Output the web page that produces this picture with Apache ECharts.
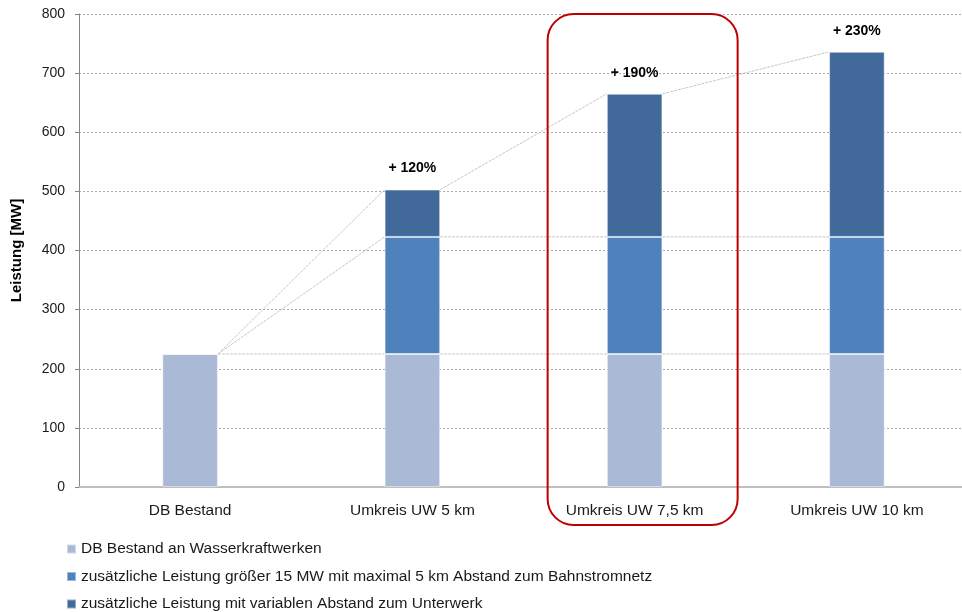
<!DOCTYPE html>
<html>
<head>
<meta charset="utf-8">
<script src="https://cdn.jsdelivr.net/npm/echarts@6/dist/echarts.min.js"></script>
<style>
  html, body { margin: 0; padding: 0; background: #fff; }
  #chart { width: 962px; height: 612px; }
</style>
</head>
<body>
<div id="chart"></div>
<script>
// Installed hydro capacity (MW) per search radius around substations
const categories = ['DB Bestand', 'Umkreis UW 5 km', 'Umkreis UW 7,5 km', 'Umkreis UW 10 km'];
const seriesNames = [
  'DB Bestand an Wasserkraftwerken',
  'zusätzliche Leistung größer 15 MW mit maximal 5 km Abstand zum Bahnstromnetz',
  'zusätzliche Leistung mit variablen Abstand zum Unterwerk'
];
const bestand = [225, 225, 225, 225];
const gross15 = [0, 198, 198, 198];
const variabel = [0, 80, 242, 313];
const increaseLabels = ['', '+ 120%', '+ 190%', '+ 230%'];
const yTicks = { min: 0, max: 800, interval: 100 };

const colors = ['#AAB9D6', '#4F81BD', '#416A9B'];
const FONT = '"Liberation Sans", Arial, sans-serif';
const BAR_RATIO = 0.25;

// cumulative tops of each stacked segment, used for the connecting series lines
const stacks = [bestand, gross15, variabel];
const cumulative = stacks.map((_, s) =>
  categories.map((_, i) => stacks.slice(0, s + 1).reduce((sum, arr) => sum + arr[i], 0))
);

const chart = echarts.init(document.getElementById('chart'));

const barStyle = (c) => ({ color: c, borderColor: 'rgba(255,255,255,0.45)', borderWidth: 1 });

const option = {
  animation: false,
  backgroundColor: '#ffffff',
  textStyle: { fontFamily: FONT },
  grid: { left: 79, right: -6, top: 14, bottom: 125, outerBoundsMode: 'none' },
  legend: {
    orient: 'vertical',
    left: 66,
    top: 541,
    padding: 0,
    itemWidth: 9,
    itemHeight: 9,
    itemGap: 11.5,
    icon: 'rect',
    data: seriesNames,
    selectedMode: false,
    textStyle: { fontFamily: FONT, fontSize: 15.5, color: '#1a1a1a', lineHeight: 16 }
  },
  xAxis: {
    type: 'category',
    data: categories,
    axisLine: { lineStyle: { color: '#BFBFBF', width: 2 } },
    axisTick: { show: false },
    axisLabel: { fontFamily: FONT, fontSize: 15.5, color: '#1a1a1a', margin: 16 }
  },
  yAxis: {
    type: 'value',
    min: yTicks.min,
    max: yTicks.max,
    interval: yTicks.interval,
    name: 'Leistung [MW]',
    nameLocation: 'middle',
    nameGap: 55,
    nameTextStyle: { fontFamily: FONT, fontSize: 15, fontWeight: 'bold', color: '#000' },
    axisLine: { show: true, lineStyle: { color: '#868686', width: 1 } },
    axisTick: { show: true, length: 4, lineStyle: { color: '#868686' } },
    axisLabel: { fontFamily: FONT, fontSize: 14, color: '#1a1a1a', margin: 14 },
    splitLine: { lineStyle: { color: '#ababab', type: [2, 2], width: 1 } }
  },
  series: [
    {
      name: seriesNames[0], type: 'bar', stack: 'total', barWidth: '25%',
      data: bestand, itemStyle: barStyle(colors[0])
    },
    {
      name: seriesNames[1], type: 'bar', stack: 'total', barWidth: '25%',
      data: gross15, itemStyle: barStyle(colors[1])
    },
    {
      name: seriesNames[2], type: 'bar', stack: 'total', barWidth: '25%',
      data: variabel, itemStyle: barStyle(colors[2]),
      label: {
        show: true,
        position: 'top',
        distance: 14,
        formatter: (p) => increaseLabels[p.dataIndex],
        fontFamily: FONT,
        fontSize: 14,
        fontWeight: 'bold',
        color: '#000'
      }
    },
    {
      // thin lines joining the tops of matching segments of neighbouring columns
      name: 'Verbindungslinien',
      type: 'custom',
      silent: true,
      z: 1,
      data: categories.slice(0, -1).map((_, i) => [i, 0]),
      encode: { x: 0, y: 1 },
      renderItem: (params, api) => {
        const i = api.value(0);
        const half = api.size([1, 0])[0] * BAR_RATIO / 2;
        const children = cumulative.map((cum) => {
          const a = api.coord([i, cum[i]]);
          const b = api.coord([i + 1, cum[i + 1]]);
          return {
            type: 'line',
            shape: { x1: a[0] + half, y1: a[1], x2: b[0] - half, y2: b[1] },
            style: { stroke: '#C8C8C8', lineWidth: 1, lineDash: [3, 1] }
          };
        });
        return { type: 'group', children };
      }
    }
  ]
};

chart.setOption(option);

// red rounded frame highlighting the 7,5 km scenario
const center = chart.convertToPixel({ xAxisIndex: 0 }, categories[2]);
const topY = chart.convertToPixel({ yAxisIndex: 0 }, yTicks.max);
const baseY = chart.convertToPixel({ yAxisIndex: 0 }, yTicks.min);
chart.setOption({
  graphic: [{
    type: 'rect',
    z: 100,
    shape: { x: center - 87, y: topY, width: 190, height: baseY - topY + 38, r: 26 },
    style: { fill: 'none', stroke: '#C00000', lineWidth: 2 }
  }]
});
</script>
</body>
</html>
